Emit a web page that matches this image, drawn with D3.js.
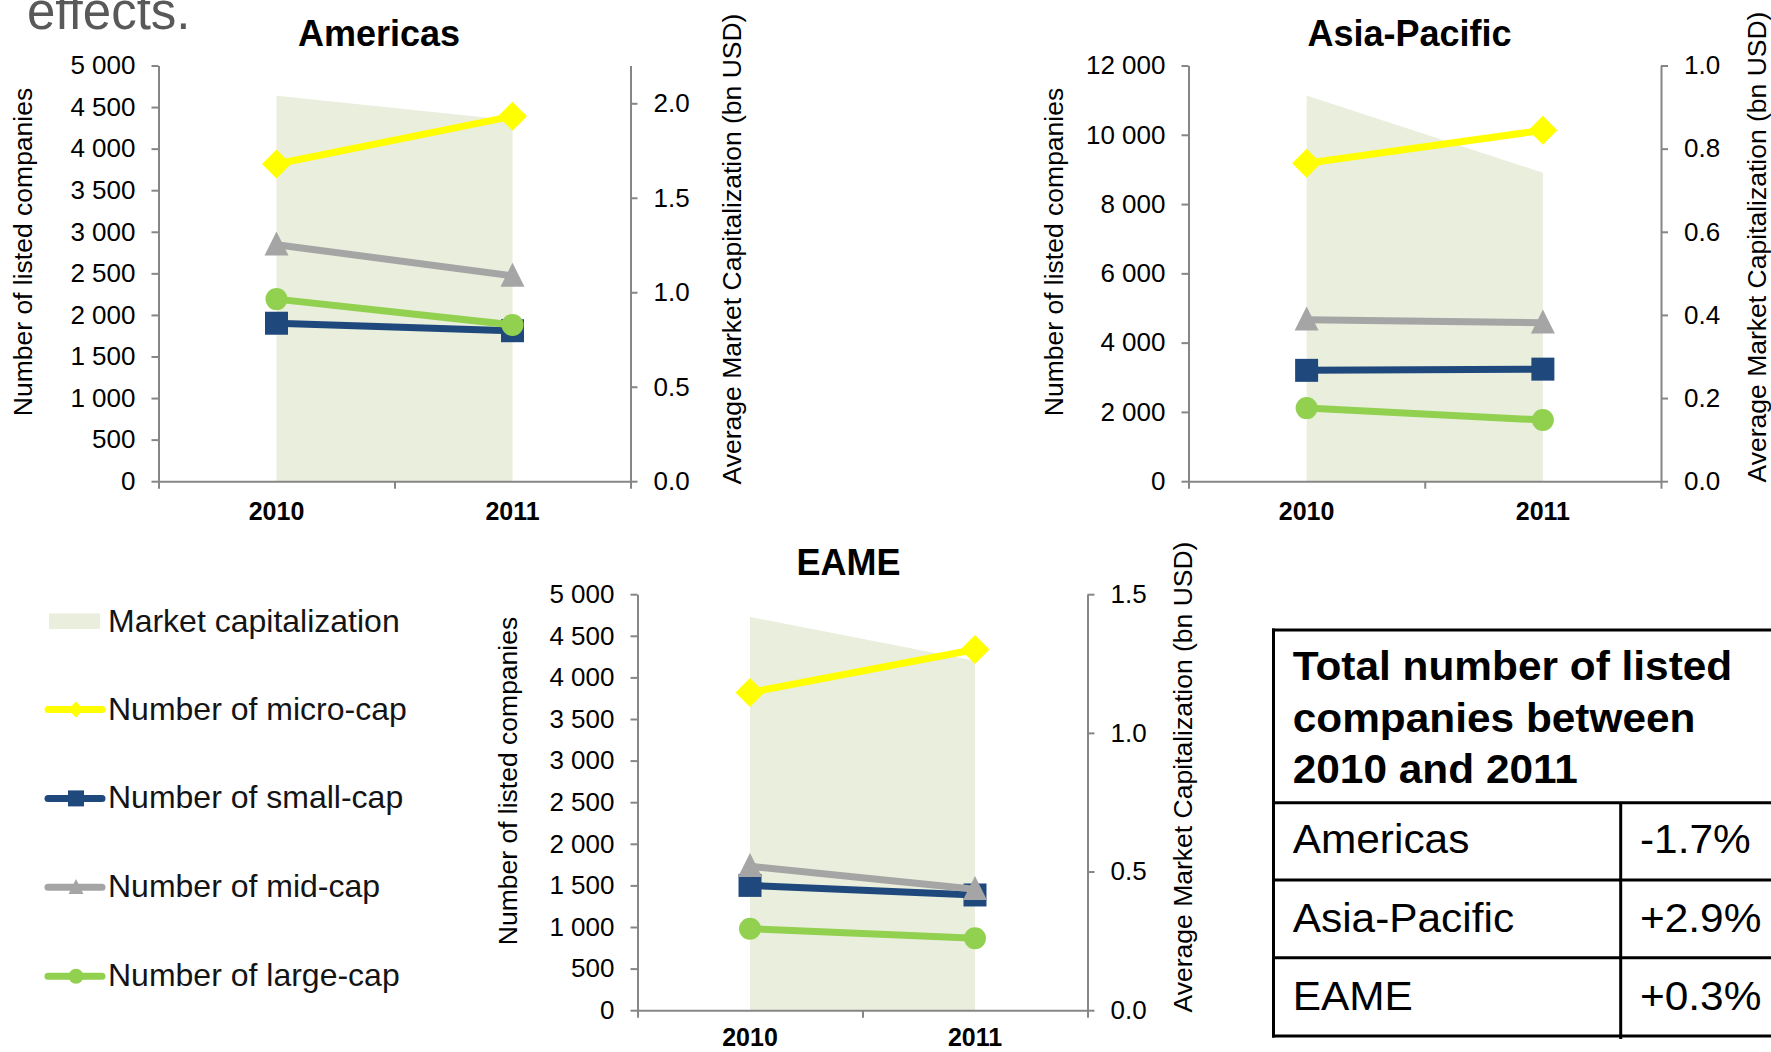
<!DOCTYPE html>
<html>
<head>
<meta charset="utf-8">
<script src="https://cdn.jsdelivr.net/npm/d3@7"></script>
<style>
  html, body { margin: 0; padding: 0; background: #fff; overflow: hidden; }
</style>
</head>
<body>
<script>
// ---- data ----
const years = ["2010", "2011"];
const regions = ["Americas", "Asia-Pacific", "EAME"];
// average market capitalization, bn USD (right axis), per region
const marketCap = [[2.04, 1.91], [0.928, 0.742], [1.418, 1.26]];
// number of listed companies per size class (left axis), per region
const microCap = [[3815, 4390], [9180, 10130], [3820, 4335]];
const smallCap = [[1900, 1810], [3200, 3235], [1500, 1385]];
const midCap   = [[2845, 2470], [4660, 4575], [1730, 1455]];
const largeCap = [[2190, 1880], [2110, 1765], [980, 865]];
// axis domains and tick steps per region
const countMax = [5000, 12000, 5000];
const countStep = [500, 2000, 500];
const capMax = [2.2, 1.0, 1.5];
const capStep = [0.5, 0.2, 0.5];
const leftAxisTitle = "Number of listed companies";
const rightAxisTitle = "Average Market Capitalization (bn USD)";
const legendLabels = ["Market capitalization", "Number of micro-cap", "Number of small-cap",
                      "Number of mid-cap", "Number of large-cap"];
const tableTitle = ["Total number of listed", "companies between", "2010 and 2011"];
const tableRegions = ["Americas", "Asia-Pacific", "EAME"];
const tableChange = ["-1.7%", "+2.9%", "+0.3%"];

// ---- styling ----
const W = 1771, H = 1052;
const FONT = "'Liberation Sans', Arial, Helvetica, sans-serif";
const AXIS_GREY = "#868686";
const AREA_FILL = "#EAEEDC";

// marker shapes; size is passed as (diameter)^2
const diamondShape = { draw(ctx, size) { const r = Math.sqrt(size) / 2;
  ctx.moveTo(0, -r); ctx.lineTo(r, 0); ctx.lineTo(0, r); ctx.lineTo(-r, 0); ctx.closePath(); } };
const squareShape = { draw(ctx, size) { const r = Math.sqrt(size) / 2;
  ctx.rect(-r, -r, 2 * r, 2 * r); } };
const triangleShape = { draw(ctx, size) { const d = Math.sqrt(size);
  ctx.moveTo(0, -d * 0.55); ctx.lineTo(d / 2, d * 0.45); ctx.lineTo(-d / 2, d * 0.45); ctx.closePath(); } };
const circleShape = { draw(ctx, size) { const r = Math.sqrt(size) / 2;
  ctx.moveTo(r, 0); ctx.arc(0, 0, r, 0, 2 * Math.PI); } };

const series = [
  { values: microCap, color: "#FFFF00", shape: diamondShape, size: 29, legendSize: 16 },
  { values: smallCap, color: "#1F497D", shape: squareShape, size: 23, legendSize: 16 },
  { values: midCap,   color: "#A5A5A5", shape: triangleShape, size: 24, legendSize: 15 },
  { values: largeCap, color: "#92D050", shape: circleShape, size: 22, legendSize: 15 }
];

// plot frames of the three panels
const panels = [
  { x0: 158.5, x1: 630.5, y0: 65.5, y1: 481.2, title: [379, 46], lt: [23, 252], rt: [732, 249], labelPad: 21 },
  { x0: 1188.5, x1: 1661, y0: 65.5, y1: 481.2, title: [1409.5, 46], lt: [1054, 252], rt: [1757, 247], labelPad: 21 },
  { x0: 637.5, x1: 1087.5, y0: 594.2, y1: 1010.2, title: [848.5, 574.5], lt: [507.6, 781], rt: [1183, 777], labelPad: 18.5 }
];

const svg = d3.select("body").append("svg")
  .attr("width", W).attr("height", H)
  .style("font-family", FONT);

// heading fragment at the top left
svg.append("text")
  .attr("x", 27).attr("y", 29)
  .attr("font-size", 51).attr("fill", "#595959")
  .text("effects.");

const countFmt = v => d3.format(",")(v).replace(/,/g, " ");
const capFmt = d3.format(".1f");

function styleAxis(g, fontSize, bold) {
  g.select(".domain").attr("stroke", AXIS_GREY).attr("stroke-width", 2);
  g.selectAll(".tick line").attr("stroke", AXIS_GREY).attr("stroke-width", 2);
  g.selectAll(".tick text")
    .attr("fill", "#000")
    .attr("font-size", fontSize)
    .attr("font-weight", bold ? "bold" : "normal")
    .style("font-family", FONT);
}

regions.forEach((region, i) => {
  const p = panels[i];
  const g = svg.append("g");

  const xBand = d3.scaleBand().domain(years).range([p.x0, p.x1]);
  const xEdge = d3.scaleLinear().domain([0, years.length]).range([p.x0, p.x1]);
  const xc = yr => xBand(yr) + xBand.bandwidth() / 2;
  const yL = d3.scaleLinear().domain([0, countMax[i]]).range([p.y1, p.y0]);
  const yR = d3.scaleLinear().domain([0, capMax[i]]).range([p.y1, p.y0]);

  // market capitalization area (right axis)
  const area = d3.area()
    .x((d, j) => xc(years[j]))
    .y0(p.y1)
    .y1(d => yR(d));
  g.append("path")
    .datum(marketCap[i])
    .attr("d", area)
    .attr("fill", AREA_FILL);

  // axes
  const leftTicks = d3.range(0, countMax[i] + countStep[i] / 2, countStep[i]);
  const gl = g.append("g").attr("transform", `translate(${p.x0},0)`)
    .call(d3.axisLeft(yL).tickValues(leftTicks).tickFormat(countFmt)
      .tickSize(7).tickSizeOuter(0).tickPadding(16));
  styleAxis(gl, 26, false);

  const rightTicks = d3.range(0, capMax[i] + 1e-9, capStep[i]);
  const gr = g.append("g").attr("transform", `translate(${p.x1},0)`)
    .call(d3.axisRight(yR).tickValues(rightTicks).tickFormat(capFmt)
      .tickSize(7).tickSizeOuter(0).tickPadding(16));
  styleAxis(gr, 26, false);

  const gb = g.append("g").attr("transform", `translate(0,${p.y1})`)
    .call(d3.axisBottom(xEdge).tickValues(d3.range(0, years.length + 1)).tickFormat("")
      .tickSize(7.5).tickSizeOuter(0));
  styleAxis(gb, 25, true);

  const gx = g.append("g").attr("transform", `translate(0,${p.y1})`)
    .call(d3.axisBottom(xBand).tickSize(0).tickPadding(p.labelPad));
  gx.select(".domain").remove();
  styleAxis(gx, 25, true);

  // axis titles
  g.append("text")
    .attr("transform", `translate(${p.lt[0]},${p.lt[1]}) rotate(-90)`)
    .attr("text-anchor", "middle").attr("dy", "0.35em")
    .attr("font-size", 26.5).attr("fill", "#000")
    .text(leftAxisTitle);
  g.append("text")
    .attr("transform", `translate(${p.rt[0]},${p.rt[1]}) rotate(-90)`)
    .attr("text-anchor", "middle").attr("dy", "0.35em")
    .attr("font-size", 26.5).attr("fill", "#000")
    .text(rightAxisTitle);

  // panel title
  g.append("text")
    .attr("x", p.title[0]).attr("y", p.title[1])
    .attr("text-anchor", "middle")
    .attr("font-size", 36).attr("font-weight", "bold").attr("fill", "#000")
    .text(region);

  // company-count series
  const line = d3.line()
    .x((d, j) => xc(years[j]))
    .y(d => yL(d));
  series.forEach(s => {
    const vals = s.values[i];
    g.append("path")
      .datum(vals)
      .attr("d", line)
      .attr("fill", "none")
      .attr("stroke", s.color)
      .attr("stroke-width", 7)
      .attr("stroke-linejoin", "round");
    g.selectAll(null)
      .data(vals)
      .join("path")
      .attr("transform", (d, j) => `translate(${xc(years[j])},${yL(d)})`)
      .attr("d", d3.symbol().type(s.shape).size(s.size * s.size))
      .attr("fill", s.color);
  });
});

// ---- legend ----
const lg = svg.append("g");
lg.append("rect")
  .attr("x", 49).attr("y", 613.5).attr("width", 51).attr("height", 15.5)
  .attr("fill", AREA_FILL);
lg.append("text")
  .attr("x", 108).attr("y", 632)
  .attr("font-size", 32).attr("fill", "#141414")
  .text(legendLabels[0]);

const legendY = d3.scaleLinear().domain([0, 1]).range([709.5, 798.4]);
series.forEach((s, k) => {
  const y = legendY(k);
  lg.append("line")
    .attr("x1", 48).attr("x2", 102).attr("y1", y).attr("y2", y)
    .attr("stroke", s.color).attr("stroke-width", 7).attr("stroke-linecap", "round");
  lg.append("path")
    .attr("transform", `translate(76,${y})`)
    .attr("d", d3.symbol().type(s.shape).size(s.legendSize * s.legendSize))
    .attr("fill", s.color);
  lg.append("text")
    .attr("x", 108).attr("y", y + 10)
    .attr("font-size", 32).attr("fill", "#141414")
    .text(legendLabels[k + 1]);
});

// ---- summary table ----
const tb = svg.append("g");
const tLeft = 1273.5, tRight = 1800, tDiv = 1620.7;
const rowLines = [630, 802.7, 880, 957.7, 1036];
rowLines.forEach(y => {
  tb.append("line").attr("x1", tLeft - 1.5).attr("x2", tRight)
    .attr("y1", y).attr("y2", y)
    .attr("stroke", "#000").attr("stroke-width", 3);
});
tb.append("line").attr("x1", tLeft).attr("x2", tLeft)
  .attr("y1", rowLines[0] - 1.5).attr("y2", rowLines[4] + 1.5)
  .attr("stroke", "#000").attr("stroke-width", 3);
tb.append("line").attr("x1", tDiv).attr("x2", tDiv)
  .attr("y1", rowLines[1]).attr("y2", rowLines[4] + 3)
  .attr("stroke", "#000").attr("stroke-width", 3);

const tableText = (x, y, txt, bold) => tb.append("text")
  .attr("transform", `translate(${x},${y}) scale(1.06,1)`)
  .attr("font-size", 40).attr("font-weight", bold ? "bold" : "normal")
  .attr("fill", "#000").text(txt);

tableTitle.forEach((t, k) => tableText(1292.7, 680 + k * 51.7, t, true));
tableRegions.forEach((r, k) => {
  const y = 853.3 + k * 78.35;
  tableText(1292.7, y, r, false);
  tableText(1640, y, tableChange[k], false);
});
</script>
</body>
</html>
